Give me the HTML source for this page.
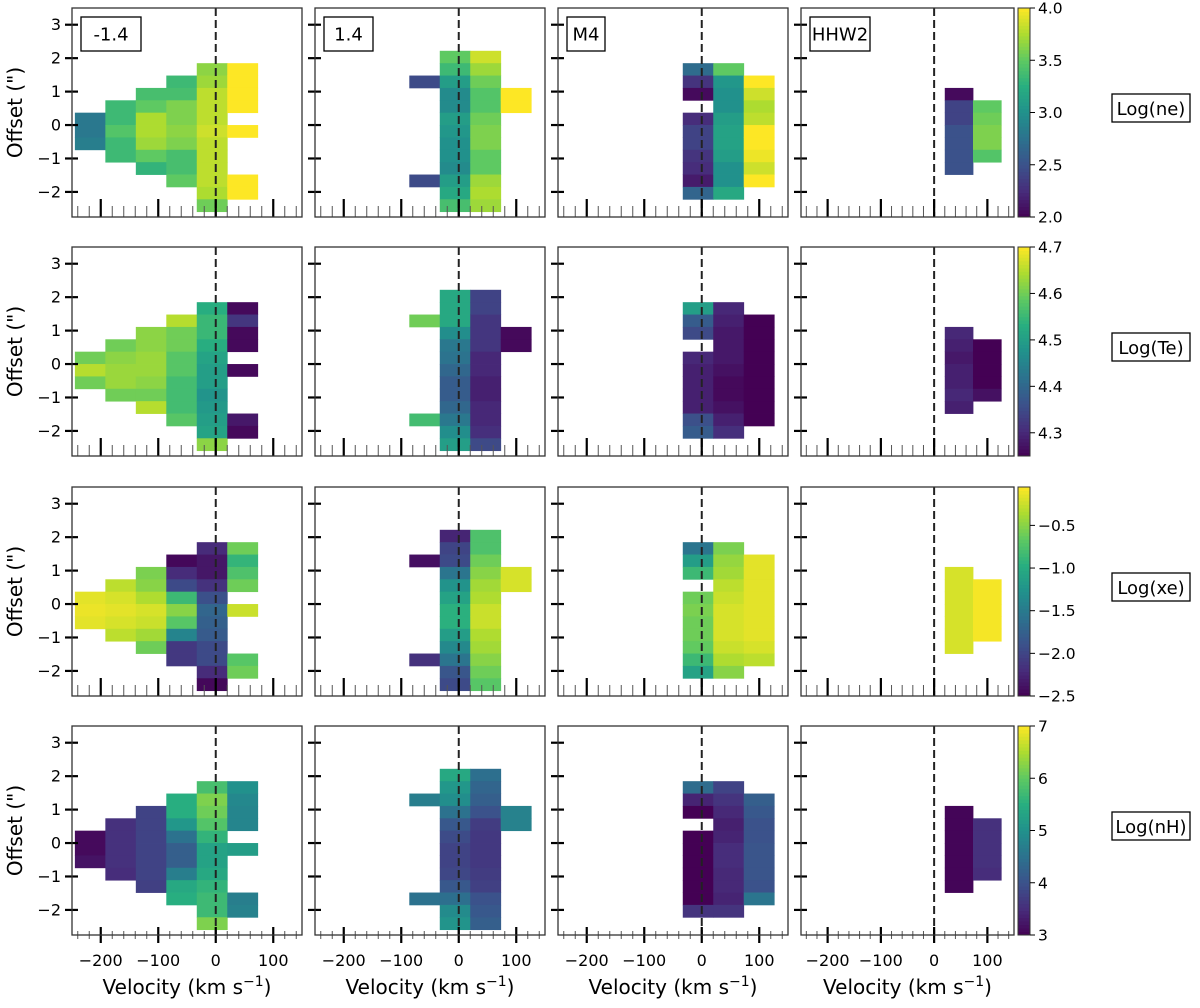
<!DOCTYPE html>
<html><head><meta charset="utf-8"><style>
html,body{margin:0;padding:0;background:#fff;}
svg{display:block;font-family:"DejaVu Sans","Liberation Sans",sans-serif;}
</style></head><body>
<svg id="fig" width="1200" height="1008" viewBox="0 0 1200 1008" xmlns="http://www.w3.org/2000/svg"></svg>
<script>
// ---- data: each panel = list of [column index, start row, values top->bottom]
const panelNames = ["-1.4", "1.4", "M4", "HHW2"];
const quantityNames = ["Log(ne)", "Log(Te)", "Log(xe)", "Log(nH)"];
const colorMins = [2.0, 4.25, -2.5, 3];
const colorMaxs = [4.0, 4.7, -0.05, 7];
const cbTicks0 = [2.0, 2.5, 3.0, 3.5, 4.0];
const cbTicks1 = [4.3, 4.4, 4.5, 4.6, 4.7];
const cbTicks2 = [-0.5, -1.0, -1.5, -2.0, -2.5];
const cbTicks3 = [3, 4, 5, 6, 7];
const cbTickLabels0 = ["2.0","2.5","3.0","3.5","4.0"];
const cbTickLabels1 = ["4.3","4.4","4.5","4.6","4.7"];
const cbTickLabels2 = ["\u22120.5","\u22121.0","\u22121.5","\u22122.0","\u22122.5"];
const cbTickLabels3 = ["3","4","5","6","7"];
const xTicks = [-200, -100, 0, 100];
const xTickLabels = ["\u2212200", "\u2212100", "0", "100"];
const yTicks = [3, 2, 1, 0, -1, -2];
const yTickLabels = ["3", "2", "1", "0", "\u22121", "\u22122"];
const N = null;

const ne_m14 = [[0,5,[2.8,2.8,2.85]],[1,4,[3.35,3.35,3.45,3.35,3.35]],[2,3,[3.4,3.5,3.75,3.75,3.7,3.5,3.3]],[3,2,[3.35,3.4,3.6,3.6,3.65,3.6,3.4,3.4,3.5]],[4,1,[3.65,3.7,3.8,3.8,3.8,3.85,3.8,3.8,3.8,3.8,3.75,3.55]],[5,1,[4,4,4,4,N,4,N,N,N,4,4]]];
const ne_p14 = [[3,2,[2.45,N,N,N,N,N,N,N,2.45]],[4,0,[3.5,3.35,3.1,2.95,2.95,3.1,3.05,3.0,3.0,2.95,3.1,3.2,3.4]],[5,0,[3.85,3.7,3.55,3.45,3.45,3.55,3.6,3.6,3.5,3.5,3.7,3.75,3.7]],[6,3,[4,4]]];
const ne_m4 = [[4,1,[2.7,2.3,2.05,N,2.25,2.4,2.4,2.3,2.25,2.15,2.65]],[5,1,[3.5,3.05,3.0,3.0,3.1,3.15,3.15,3.1,3.0,3.0,3.2]],[6,2,[4.0,3.85,3.75,3.8,4.0,4.0,3.95,3.85,4.0]]];
const ne_hhw2 = [[5,3,[2.05,2.4,2.4,2.5,2.5,2.5,2.5]],[6,4,[3.5,3.55,3.6,3.6,3.45]]];

const te_m14 = [[0,5,[4.6,4.65,4.6]],[1,4,[4.6,4.62,4.63,4.63,4.6]],[2,3,[4.62,4.62,4.63,4.63,4.62,4.6,4.65]],[3,2,[4.65,4.6,4.6,4.58,4.58,4.56,4.56,4.56,4.58]],[4,1,[4.53,4.55,4.55,4.53,4.51,4.5,4.5,4.48,4.49,4.5,4.51,4.62]],[5,1,[4.26,4.32,4.26,4.26,N,4.26,N,N,N,4.28,4.26]]];
const te_p14 = [[3,2,[4.6,N,N,N,N,N,N,N,4.56]],[4,0,[4.52,4.52,4.52,4.47,4.43,4.42,4.4,4.38,4.38,4.4,4.43,4.47,4.5]],[5,0,[4.34,4.34,4.32,4.32,4.32,4.3,4.3,4.29,4.29,4.3,4.3,4.31,4.35]],[6,3,[4.26,4.26]]];
const te_m4 = [[4,1,[4.5,4.38,4.35,N,4.3,4.29,4.29,4.29,4.29,4.36,4.38]],[5,1,[4.3,4.29,4.28,4.28,4.28,4.27,4.26,4.26,4.27,4.29,4.31]],[6,2,[4.25,4.25,4.25,4.25,4.25,4.25,4.25,4.25,4.25]]];
const te_hhw2 = [[5,3,[4.3,4.29,4.28,4.29,4.29,4.3,4.29]],[6,4,[4.25,4.25,4.25,4.25,4.27]]];

const xe_m14 = [[0,5,[-0.15,-0.12,-0.15]],[1,4,[-0.3,-0.2,-0.15,-0.2,-0.3]],[2,3,[-0.55,-0.5,-0.35,-0.2,-0.25,-0.4,-0.6]],[3,2,[-2.45,-2.2,-1.95,-0.85,-0.5,-0.7,-1.4,-2.1,-2.1]],[4,1,[-2.2,-2.35,-2.35,-2.15,-1.9,-1.7,-1.75,-1.8,-1.95,-1.95,-2.2,-2.45]],[5,1,[-0.6,-0.9,-0.75,-0.6,N,-0.25,N,N,N,-0.7,-0.6]]];
const xe_p14 = [[3,2,[-2.4,N,N,N,N,N,N,N,-2.15]],[4,0,[-2.25,-2.0,-1.95,-1.55,-1.25,-1.1,-0.95,-0.95,-1.15,-1.35,-1.55,-1.85,-1.95]],[5,0,[-0.75,-0.75,-0.6,-0.5,-0.4,-0.35,-0.25,-0.25,-0.35,-0.4,-0.5,-0.6,-0.7]],[6,3,[-0.2,-0.2]]];
const xe_m4 = [[4,1,[-1.55,-1.15,-0.85,N,-0.6,-0.55,-0.6,-0.6,-0.65,-0.85,-1.1]],[5,1,[-0.55,-0.45,-0.4,-0.3,-0.25,-0.2,-0.2,-0.2,-0.25,-0.35,-0.5]],[6,2,[-0.15,-0.15,-0.15,-0.15,-0.15,-0.15,-0.15,-0.2,-0.3]]];
const xe_hhw2 = [[5,3,[-0.2,-0.2,-0.2,-0.2,-0.2,-0.2,-0.2]],[6,4,[-0.08,-0.08,-0.08,-0.08,-0.08]]];

const nh_m14 = [[0,5,[3.1,3.1,3.2]],[1,4,[3.55,3.55,3.55,3.55,3.5]],[2,3,[3.8,3.8,3.8,3.8,3.8,3.8,3.75]],[3,2,[5.5,5.5,5.1,4.5,4.2,4.2,4.7,5.4,5.5]],[4,1,[5.8,6.2,6.1,5.9,5.6,5.3,5.3,5.4,5.6,5.7,5.7,6.2]],[5,1,[5.0,4.85,4.8,4.8,N,5.2,N,N,N,4.7,4.75]]];
const nh_p14 = [[3,2,[4.7,N,N,N,N,N,N,N,4.5]],[4,0,[5.4,5.1,4.95,4.5,4.1,3.9,3.8,3.8,3.85,4.1,4.45,4.9,5.05]],[5,0,[4.45,4.3,4.2,4.0,3.7,3.65,3.65,3.65,3.7,3.75,4.0,4.1,4.2]],[6,3,[4.75,4.75]]];
const nh_m4 = [[4,1,[4.4,3.4,3.0,N,3.0,3.0,3.0,3.0,3.0,3.0,3.6]],[5,1,[3.8,3.6,3.45,3.35,3.4,3.5,3.5,3.45,3.45,3.4,3.6]],[6,2,[4.2,4.1,4.0,4.0,4.05,4.05,4.05,4.0,4.55]]];
const nh_hhw2 = [[5,3,[3.05,3.05,3.05,3.05,3.05,3.05,3.05]],[6,4,[3.55,3.55,3.55,3.55,3.5]]];

const grid = [[ne_m14,ne_p14,ne_m4,ne_hhw2],[te_m14,te_p14,te_m4,te_hhw2],[xe_m14,xe_p14,xe_m4,xe_hhw2],[nh_m14,nh_p14,nh_m4,nh_hhw2]];
const cbTicks = [cbTicks0,cbTicks1,cbTicks2,cbTicks3];
const cbTickLabels = [cbTickLabels0,cbTickLabels1,cbTickLabels2,cbTickLabels3];

// ---- layout
const PX = [72, 315, 558, 801], PW = [230, 230, 230, 213];
const PT = [8, 247, 487, 726], PH = 209;
const XMIN = -250, XMAX = 150, YMIN = -2.75, YMAX = 3.5;
const CB_X = 1018, CB_W = 12;
const VSTEP = 53, V0 = -245, OSTEP = 0.37, O0 = 2.22;
const VIR = ["#440154","#472d7b","#3b528b","#2c728e","#21918c","#28ae80","#5ec962","#addc30","#fde725"];
function hex(h){return [1,3,5].map(i=>parseInt(h.substr(i,2),16));}
function viridis(t){t=Math.max(0,Math.min(1,t));const f=t*8,i=Math.min(7,Math.floor(f)),u=f-i;const a=hex(VIR[i]),b=hex(VIR[i+1]);return "rgb("+a.map((v,k)=>Math.round(v+(b[k]-v)*u)).join(",")+")";}
const NS="http://www.w3.org/2000/svg", svg=document.getElementById("fig");
function el(tag,attrs,parent){const e=document.createElementNS(NS,tag);for(const k in attrs)e.setAttribute(k,attrs[k]);(parent||svg).appendChild(e);return e;}
function xs(p,v){return PX[p]+(v-XMIN)/(XMAX-XMIN)*PW[p];}
function ys(r,y){return PT[r]+(YMAX-y)/(YMAX-YMIN)*PH;}

for(let r=0;r<4;r++){
  for(let p=0;p<4;p++){
    const g=el("g",{});
    
    
    grid[r][p].forEach(([c,s,vals])=>{
      vals.forEach((v,k)=>{
        if(v===null)return;
        const row=s+k;
        const x0=xs(p,V0+VSTEP*c), x1=xs(p,V0+VSTEP*(c+1));
        const y0=ys(r,O0-OSTEP*row), y1=ys(r,O0-OSTEP*(row+1));
        const t=(v-colorMins[r])/(colorMaxs[r]-colorMins[r]);
        const rc=el("rect",{x:x0,y:y0,width:x1-x0+0.4,height:y1-y0+0.4,fill:viridis(t)},g);
        
        
      });
    });
    const dl=el("line",{x1:xs(p,0),x2:xs(p,0),y1:PT[r],y2:PT[r]+PH,stroke:"#222","stroke-width":2,"stroke-dasharray":"8,4"},g);
    
    
    const bottom=PT[r]+PH, last=(r===3);
    for(let v=-240;v<=140;v+=20){
      const major=(v%100===0), x=xs(p,v);
      const len=last?(major?8:4):(major?18:11);
      const t=el("line",{x1:x,x2:x,y1:bottom-len,y2:bottom+(last?len:0),stroke:major?"#000":"#555","stroke-width":major?2.2:1},g);
      
      
    }
    yTicks.forEach((yv,i)=>{
      const y=ys(r,yv);
      const t=el("line",{x1:PX[p]-7,x2:PX[p]+6,y1:y,y2:y,stroke:"#000","stroke-width":2.2},g);
      
      
      if(p===0){
        const tl=el("text",{x:PX[0]-11,y:y+5.5,"text-anchor":"end","font-size":16,fill:"#000"},g);
        tl.textContent=yTickLabels[i];
        
        
      }
    });
    if(last){
      xTicks.forEach((xv,i)=>{
        const tl=el("text",{x:xs(p,xv),y:966,"text-anchor":"middle","font-size":16,fill:"#000"},g);
        tl.textContent=xTickLabels[i];
        
        
      });
      const xl=el("text",{x:PX[p]+PW[p]/2,y:994,"text-anchor":"middle","font-size":20,fill:"#000"},g);
      
      
      xl.appendChild(document.createTextNode("Velocity (km s"));
      const sup=el("tspan",{dy:-8,"font-size":14},xl); sup.textContent="\u22121";
      const cl=el("tspan",{dy:8},xl); cl.textContent=")";
    }
    const fr=el("rect",{x:PX[p],y:PT[r],width:PW[p],height:PH,fill:"none",stroke:"#333","stroke-width":1.3},g);
    
    
    if(r===0){
      const w=panelNames[p].length*11+16;
      const lb=el("rect",{x:PX[p]+9,y:17,width:w,height:34,fill:"#fff",stroke:"#000","stroke-width":1.3},g);
      
      
      const lt=el("text",{x:PX[p]+9+w/2,y:40.5,"text-anchor":"middle","font-size":18,fill:"#000"},g);
      lt.textContent=panelNames[p];
      
      
    }
  }
  const yc=PT[r]+PH/2;
  const yt=el("text",{x:0,y:0,transform:"translate(22,"+yc+") rotate(-90)","text-anchor":"middle","font-size":20,fill:"#000"});
  yt.textContent="Offset (\")";
  
  
  const cb=el("g",{});
  
  
  const n=60;
  for(let i=0;i<n;i++){
    const rr=el("rect",{x:CB_X,y:PT[r]+PH*(1-(i+1)/n),width:CB_W,height:PH/n+0.5,fill:viridis((i+0.5)/n)},cb);
    
    
  }
  const cbf=el("rect",{x:CB_X,y:PT[r],width:CB_W,height:PH,fill:"none",stroke:"#333","stroke-width":1},cb);
  
  
  cbTicks[r].forEach((tv,i)=>{
    const y=PT[r]+PH*(1-(tv-colorMins[r])/(colorMaxs[r]-colorMins[r]));
    const tk=el("line",{x1:CB_X+CB_W,x2:CB_X+CB_W+5,y1:y,y2:y,stroke:"#000","stroke-width":1},cb);
    
    
    const tl=el("text",{x:CB_X+CB_W+8,y:y+5.5,"font-size":15.5,fill:"#000"},cb);
    tl.textContent=cbTickLabels[r][i];
    
    
  });
  const qy=PT[r]+100;
  const qb=el("rect",{x:1112,y:qy-14,width:78,height:28,fill:"#fff",stroke:"#000","stroke-width":1.3});
  
  
  const qt=el("text",{x:1151,y:qy+7,"text-anchor":"middle","font-size":18,fill:"#000"});
  qt.textContent=quantityNames[r];
  
  
}
</script>
</body></html>
